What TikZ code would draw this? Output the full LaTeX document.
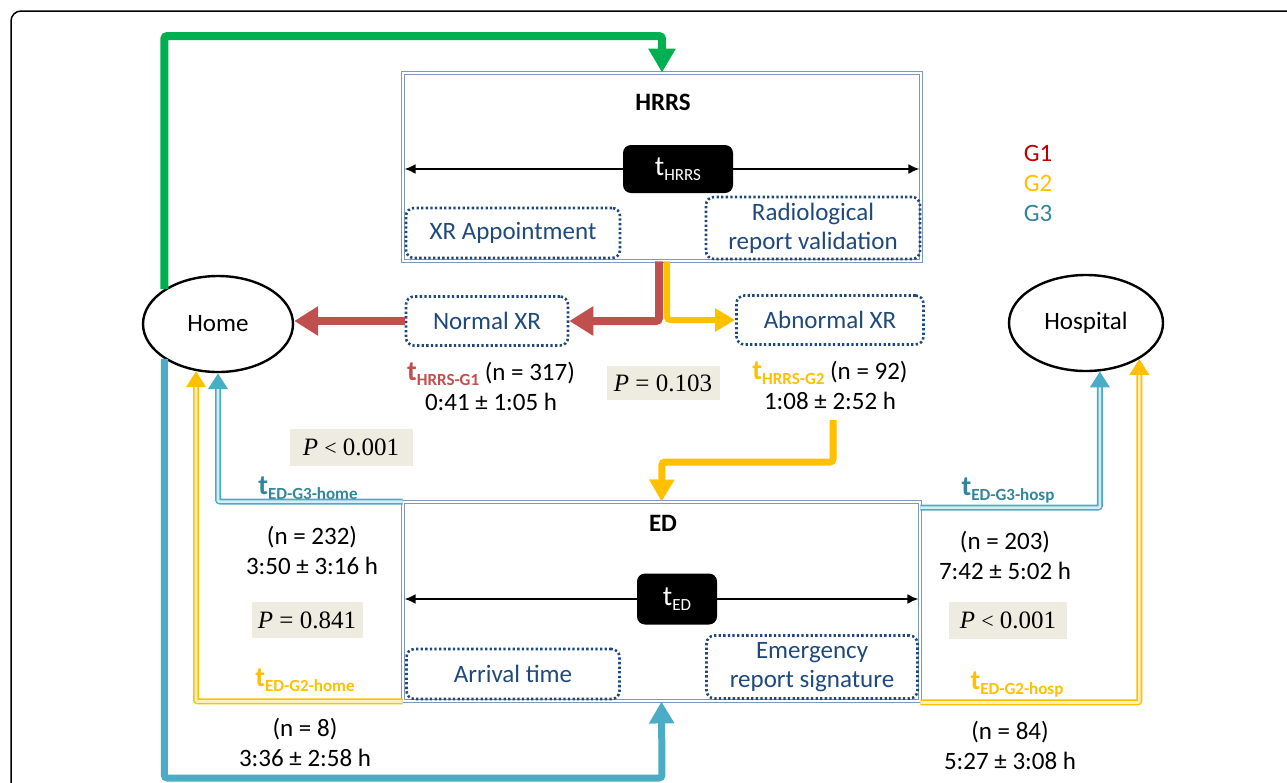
\documentclass[tikz,border=0pt]{standalone}
\usepackage{fontspec}
\setmainfont{Carlito}
\newfontfamily\timesf{Liberation Serif}
\usetikzlibrary{arrows.meta,shapes.geometric,calc}
\definecolor{gred}{HTML}{C0504D}
\definecolor{gredtxt}{HTML}{C00000}
\definecolor{gyel}{HTML}{FFC000}
\definecolor{gblue}{HTML}{4BACC6}
\definecolor{gteal}{HTML}{31859C}
\definecolor{ggreen}{HTML}{00B050}
\definecolor{dblue}{HTML}{1F497D}
\definecolor{boxline}{HTML}{7F97BF}
\definecolor{pfill}{HTML}{EEECE1}
\newcommand\tsubl[1]{{\fontsize{28}{28}\selectfont t}\raisebox{-5pt}{\fontsize{17}{17}\selectfont #1}}
\begin{document}
\begin{tikzpicture}[x=1pt,y=-1pt,
  bigbox/.style={draw=boxline, line width=0.9pt, double=white, double distance=1.6pt, inner sep=0pt},
  dotbox/.style={draw=dblue, line width=2.6pt, dash pattern=on 2.3pt off 2.3pt, rounded corners=8pt, text=dblue, font=\fontsize{25}{29}\selectfont, align=center, inner sep=0pt},
  tbox/.style={fill=black, rounded corners=8pt, text=white, inner sep=0pt},
  oval/.style={ellipse, draw=black, line width=2.4pt, inner sep=0pt, font=\fontsize{25}{29}\selectfont},
  pbox/.style={fill=pfill, inner sep=0pt, font=\timesf\fontsize{25}{29}\selectfont},
  lab/.style={font=\fontsize{25}{30}\selectfont, align=center, inner sep=0pt},
  thin arrow/.style={line width=2pt, {Latex[length=11pt,width=10pt]}-{Latex[length=11pt,width=10pt]}},
  fat/.style={line width=#1, rounded corners=3pt},
  dblout/.style={line width=6pt, rounded corners=2pt, -{Triangle[length=16pt,width=19pt]}},
  dblin/.style={line width=2.6pt, rounded corners=1pt, shorten >=16pt}
]
\useasboundingbox (0,0) rectangle (1287,782);
% frame
\draw[line width=1.5pt, rounded corners=10pt] (11,790) -- (11,11) -- (1295,11);

% main boxes
\node[bigbox, minimum width=518pt, minimum height=188pt] (hrrs) at (662,167) {};
\node[font=\bfseries\fontsize{25}{25}\selectfont] (hrrslab) at (663,102) {HRRS};
\node[dotbox, minimum width=214pt, minimum height=50pt] (xrapp) at (513,233) {XR Appointment};
\node[dotbox, minimum width=214pt, minimum height=62pt] (radval) at (813,228) {Radiological\\report validation};

\node[bigbox, minimum width=517pt, minimum height=199pt] (ed) at (661.5,601.5) {};
\node[font=\bfseries\fontsize{25}{25}\selectfont] (edlab) at (663,523) {ED};
\node[dotbox, minimum width=213pt, minimum height=50pt] (arrival) at (513,674) {Arrival time};
\node[dotbox, minimum width=211pt, minimum height=63pt] (emerg) at (812,667) {Emergency\\report signature};

\node[dotbox, minimum width=162pt, minimum height=49pt] (normxr) at (487,321) {Normal XR};
\node[dotbox, minimum width=187pt, minimum height=49pt] (abnxr) at (830,320) {Abnormal XR};

\node[oval, minimum width=150pt, minimum height=96pt] (home) at (218,324) {Home};
\node[oval, minimum width=154pt, minimum height=96pt] (hosp) at (1086,323) {Hospital};

% legend
\node[font=\fontsize{25}{25}\selectfont, text=gredtxt] (lg1) at (1038,153) {G1};
\node[font=\fontsize{25}{25}\selectfont, text=gyel] (lg2) at (1038,183) {G2};
\node[font=\fontsize{25}{25}\selectfont, text=gteal] (lg3) at (1038,213) {G3};

% labels
\node[lab] (g1lab) at (491,386) {{\bfseries\color{gred}\tsubl{HRRS-G1}} (n = 317)\\0:41 ± 1:05 h};
\node[lab] (g2lab) at (830,385) {{\bfseries\color{gyel}\tsubl{HRRS-G2}} (n = 92)\\1:08 ± 2:52 h};
\node[pbox, minimum width=113pt, minimum height=34pt] (p103) at (663,383) {\textit{P} = 0.103};
\node[pbox, minimum width=123pt, minimum height=37pt] (p001l) at (351,447) {\textit{P} {\fontsize{22}{22}\selectfont<} 0.001};
\node[pbox, minimum width=111pt, minimum height=36pt] (p841) at (307,620) {\textit{P} = 0.841};
\node[pbox, minimum width=118pt, minimum height=37pt] (p001r) at (1008,620) {\textit{P} {\fontsize{22}{22}\selectfont<} 0.001};

\node[lab, text=gteal] (g3homelab) at (308,488) {\bfseries\tsubl{ED-G3-home}};
\node[lab] (n232) at (312,550) {(n = 232)\\3:50 ± 3:16 h};
\node[lab, text=gyel] (g2homelab) at (305,680) {\bfseries\tsubl{ED-G2-home}};
\node[lab] (n8) at (305,742) {(n = 8)\\3:36 ± 2:58 h};

\node[lab, text=gteal] (g3hosplab) at (1008,490) {\bfseries\tsubl{ED-G3-hosp}};
\node[lab] (n203) at (1005,555) {(n = 203)\\7:42 ± 5:02 h};
\node[lab, text=gyel] (g2hosplab) at (1017,684) {\bfseries\tsubl{ED-G2-hosp}};
\node[lab] (n84) at (1010,745) {(n = 84)\\5:27 ± 3:08 h};

% time arrows in boxes
\coordinate (thc) at (678,169);
\coordinate (tec) at (677,599);
\draw[thin arrow] ([xshift=2pt]hrrs.west |- thc) -- ([xshift=-2pt]hrrs.east |- thc);
\node[tbox, minimum width=110pt, minimum height=48pt] (thrrs) at (thc) {\tsubl{HRRS}};
\draw[thin arrow] ([xshift=2pt]ed.west |- tec) -- ([xshift=-2pt]ed.east |- tec);
\node[tbox, minimum width=80pt, minimum height=51pt] (ted) at (tec) {\tsubl{ED}};

% coordinates for bends
\coordinate (gtop) at (662,36);
\coordinate (bbot) at (662,778);
\coordinate (ystart) at (833,420);
\coordinate (ybend) at (662,462);

% thick connectors
\draw[gyel, fat=6pt, -{Triangle[length=20pt,width=22pt]}] ([xshift=5pt]hrrs.south) |- (abnxr.west);
\draw[gred, fat=8pt, -{Triangle[length=24pt,width=28pt]}] ([xshift=-3pt]hrrs.south) |- (normxr.east);
\draw[gred, fat=8pt, -{Triangle[length=24pt,width=28pt]}] (normxr.west) -- (normxr.west -| home.east);
\draw[ggreen, fat=8pt, -{Triangle[length=24pt,width=26pt]}] (home.147) |- (gtop) -- (hrrs.north);
\draw[gblue, fat=7pt, -{Triangle[length=22pt,width=24pt]}] (home.213) |- (bbot) -- (ed.south);
\draw[gyel, fat=7pt, -{Triangle[length=22pt,width=24pt]}] (ystart) |- (ybend) -- (ed.north);

% double connectors
\draw[gblue, dblout] (ed.north west) -| (home.south);
\draw[gblue!22, dblin] (ed.north west) -| (home.south);
\draw[gyel, dblout] (ed.south west) -| (home.245);
\draw[gyel!25, dblin] (ed.south west) -| (home.245);
\draw[gblue, dblout] ([yshift=-6pt]ed.north east) -| (hosp.286);
\draw[gblue!22, dblin] ([yshift=-6pt]ed.north east) -| (hosp.286);
\draw[gyel, dblout] ([yshift=-1pt]ed.south east) -| (hosp.326);
\draw[gyel!25, dblin] ([yshift=-1pt]ed.south east) -| (hosp.326);
\end{tikzpicture}
\end{document}
